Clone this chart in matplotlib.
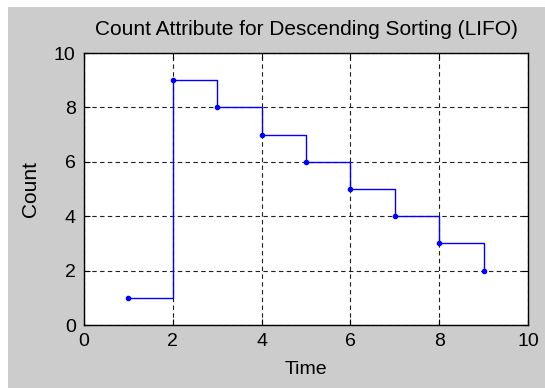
import matplotlib.pyplot as plt
from matplotlib.patches import Rectangle

# count attribute values over time (descending sort, LIFO)
time = [1, 2, 3, 4, 5, 6, 7, 8, 9]
count = [1, 9, 8, 7, 6, 5, 4, 3, 2]

plt.rcParams['font.family'] = ['Liberation Sans', 'DejaVu Sans']

fig = plt.figure(figsize=(5.45, 3.88), dpi=100, facecolor='white')
# grey figure panel, leaving a thin white margin top and left
fig.patches.append(Rectangle((8 / 545, 0), 1, 1 - 7 / 388, transform=fig.transFigure,
                             facecolor='#cccccc', edgecolor='none', zorder=-10))

ax = fig.add_axes([84 / 545, 63 / 388, 444 / 545, 272 / 388])
ax.set_facecolor('white')

ax.step(time, count, where='post', color='#0000ff', linewidth=1.0, zorder=3)
ax.plot(time, count, linestyle='none', marker='.', color='#0000ff', markersize=6, zorder=4)

ax.set_xlim(0, 10)
ax.set_ylim(0, 10)
ax.set_xticks([0, 2, 4, 6, 8, 10])
ax.set_yticks([0, 2, 4, 6, 8, 10])
ax.grid(True, color='#202020', linestyle=(0, (4, 3)), linewidth=0.8)
ax.tick_params(direction='in', length=4, width=0.8, labelsize=14, pad=6,
               top=True, right=True)
for s in ax.spines.values():
    s.set_linewidth(1.0)
    s.set_color('black')

ax.set_title('Count Attribute for Descending Sorting (LIFO)', fontsize=15, pad=13)
ax.set_xlabel('Time', fontsize=14, labelpad=8)
ax.set_ylabel('Count', fontsize=15, labelpad=10)

fig.savefig('out.png', dpi=100, facecolor=fig.get_facecolor())
